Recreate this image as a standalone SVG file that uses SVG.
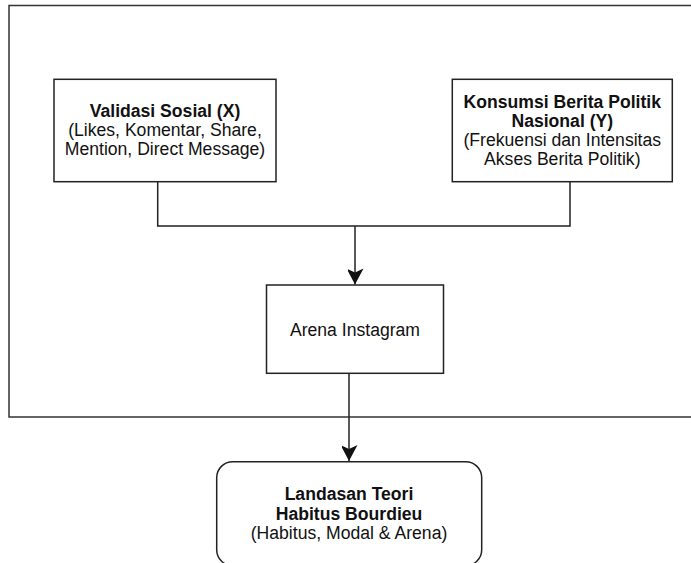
<svg xmlns="http://www.w3.org/2000/svg" width="691" height="563" viewBox="0 0 691 563">
<style>
.box{fill:#fff;stroke:#222;stroke-width:1.5}
.line{fill:none;stroke:#222;stroke-width:1.5}
text{font-family:"Liberation Sans",Arial,Helvetica,sans-serif;font-size:17.6px;fill:#111;text-anchor:middle}
.b{font-weight:bold}
</style>
<defs>
<marker id="arr" markerWidth="18" markerHeight="16" refX="17" refY="8.5" orient="auto" markerUnits="userSpaceOnUse">
<path d="M17,8.5 L1,0 L5,8.5 L1,17 Z" fill="#111"/>
</marker>
</defs>
<rect id="frame" x="9" y="5.5" width="700" height="411.5" fill="#fff" stroke="#333" stroke-width="1.5"/>
<g id="connectors">
<path class="line" d="M157.7,181.7 V226 H570 V181.7"/>
<path class="line" d="M355,226 V284.5" marker-end="url(#arr)"/>
<path class="line" d="M349,373.3 V461" marker-end="url(#arr)"/>
</g>
<g id="validasi">
<rect class="box" x="54" y="79.3" width="222" height="102.4"/>
<text class="b" x="165" y="116.5">Validasi Sosial (X)</text>
<text x="165" y="135.5">(Likes, Komentar, Share,</text>
<text x="165" y="154.5">Mention, Direct Message)</text>
</g>
<g id="konsumsi">
<rect class="box" x="452.3" y="79.3" width="220" height="102.4"/>
<text class="b" x="562.3" y="107.5">Konsumsi Berita Politik</text>
<text class="b" x="562.3" y="126.5">Nasional (Y)</text>
<text x="562.3" y="145.5">(Frekuensi dan Intensitas</text>
<text x="562.3" y="164.5">Akses Berita Politik)</text>
</g>
<g id="arena">
<rect class="box" x="266.5" y="285" width="177" height="88.3"/>
<text x="355" y="336">Arena Instagram</text>
</g>
<g id="landasan">
<rect class="box" x="216.7" y="461.7" width="265" height="104" rx="16" ry="16"/>
<text class="b" x="349" y="500">Landasan Teori</text>
<text class="b" x="349" y="519.5">Habitus Bourdieu</text>
<text x="349" y="539">(Habitus, Modal &amp; Arena)</text>
</g>
</svg>
